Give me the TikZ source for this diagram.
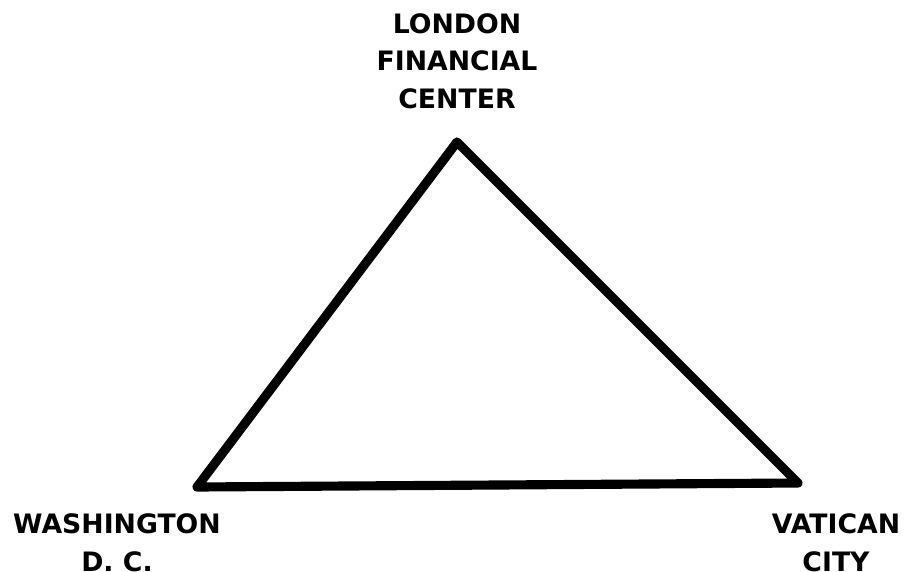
\documentclass[tikz,border=0pt]{standalone}
\usepackage{fontspec}
\setmainfont{DejaVu Sans}
\usetikzlibrary{positioning}
\begin{document}
\begin{tikzpicture}[place/.style={font=\bfseries\fontsize{7.6}{10.8}\selectfont, align=center, inner sep=0pt}]
\useasboundingbox (0,0) rectangle (9.07,5.71);
\coordinate (lon) at (4.57,4.29);
\coordinate (was) at (1.97,0.84);
\coordinate (vat) at (7.98,0.88);
\draw[line width=2.6pt, line join=round](lon)--(was)--(vat)--cycle;
\node[place, above=0.32 of lon] (lonlab) {LONDON\\FINANCIAL\\CENTER};
\node[place, below=0.26 of was, xshift=-0.8cm] (waslab) {WASHINGTON\\D. C.};
\node[place, below=0.3 of vat, xshift=0.38cm] (vatlab) {VATICAN\\CITY};
\end{tikzpicture}
\end{document}
